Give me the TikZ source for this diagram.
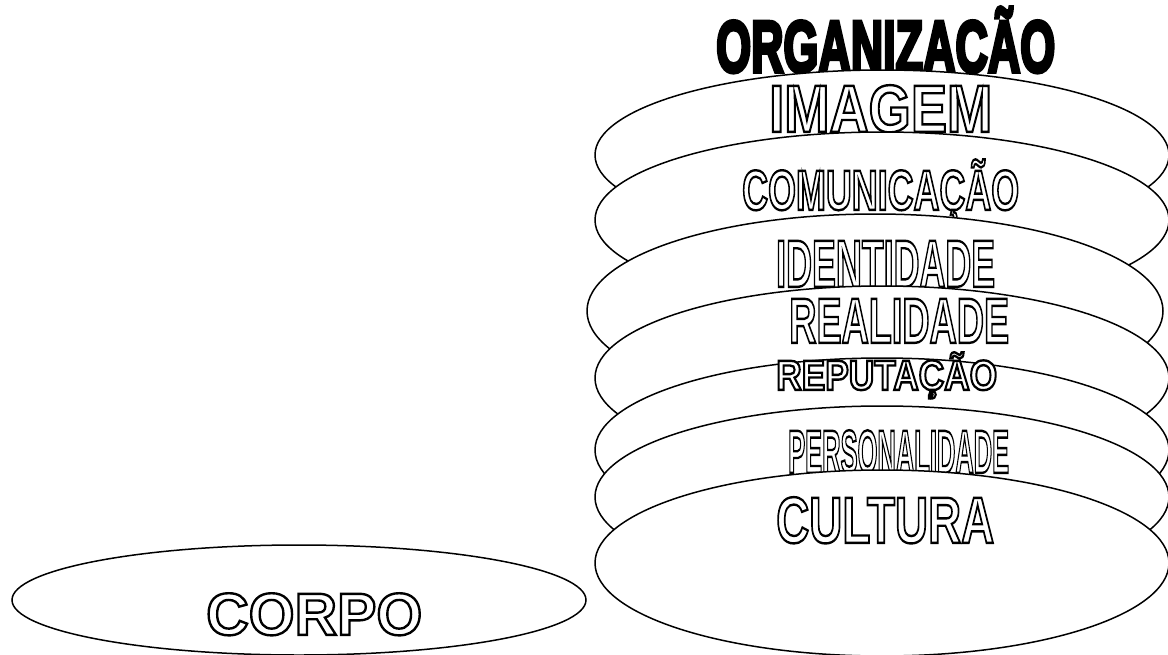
\documentclass[tikz,border=0pt]{standalone}
\usepackage{fontspec}
\usepackage{graphicx}
\usetikzlibrary{shapes.geometric}
\newfontfamily\wafont{Liberation Sans}[BoldFont={Liberation Sans Bold}]
% caps text set at the size whose cap height is #2, then squeezed to width #1
\newcommand{\captext}[3]{\resizebox{#1pt}{#2pt}{\fontsize{\fpeval{#2/0.716}pt}{0pt}\wafont\bfseries\selectfont\smash{#3}\vphantom{E}}}
% white letters with a black stroke round them
\newcommand{\outl}[3]{{\color{white}\special{pdf:literal direct 0 G 2 Tr 2.3 w}\captext{#1}{#2}{#3}\special{pdf:literal direct 0 Tr}}}
% heavy black letters
\newcommand{\heavy}[3]{{\color{black}\special{pdf:literal direct 0 G 2 Tr 4 w}\captext{#1}{#2}{#3}\special{pdf:literal direct 0 Tr}}}
\tikzset{
  disc/.style={ellipse, draw=black, fill=white, line width=1.5pt, inner sep=0pt},
  wordart/.style={anchor=south west, inner sep=0pt},
}
\begin{document}
\begin{tikzpicture}[x=1pt, y=-1pt]
\useasboundingbox (0,0) rectangle (1168,654);

% title above the stack
\node[wordart] (org) at (716,72) {\heavy{339}{50}{ORGANIZAÇÃO}};

% stacked layers, each drawn over the previous one
\node[disc, minimum width=574pt, minimum height=170pt] (e1) at (882,155) {};
\node[wordart] (imagem) at (769,132) {\outl{223}{46}{IMAGEM}};

\node[disc, minimum width=574pt, minimum height=176pt] (e2) at (882,220) {};
\node[wordart] (comunicacao) at (742,210) {\outl{277}{39}{COMUNICAÇÃO}};

\node[disc, minimum width=576pt, minimum height=194pt] (e3) at (875,311) {};
\node[wordart] (identidade) at (776,287) {\outl{219}{46}{IDENTIDADE}};

\node[disc, minimum width=574pt, minimum height=184pt] (e4) at (882,378) {};
\node[wordart] (realidade) at (789,343) {\outl{220}{44}{REALIDADE}};

\node[disc, minimum width=574pt, minimum height=184pt] (e5) at (882,450) {};
\node[wordart] (reputacao) at (776,390) {\outl{221}{29}{REPUTAÇÃO}};

\node[disc, minimum width=574pt, minimum height=182pt] (e6) at (882,497) {};
\node[wordart] (personalidade) at (788,473) {\outl{221}{42}{PERSONALIDADE}};

\node[disc, minimum width=574pt, minimum height=186pt] (e7) at (882,563) {};
\node[wordart] (cultura) at (776,543) {\outl{218}{45}{CULTURA}};

% separate body ellipse
\node[disc, minimum width=574pt, minimum height=110pt] (corpo) at (299,600) {};
\node[wordart] (corpotxt) at (206,635) {\outl{216}{41}{CORPO}};
\end{tikzpicture}
\end{document}
